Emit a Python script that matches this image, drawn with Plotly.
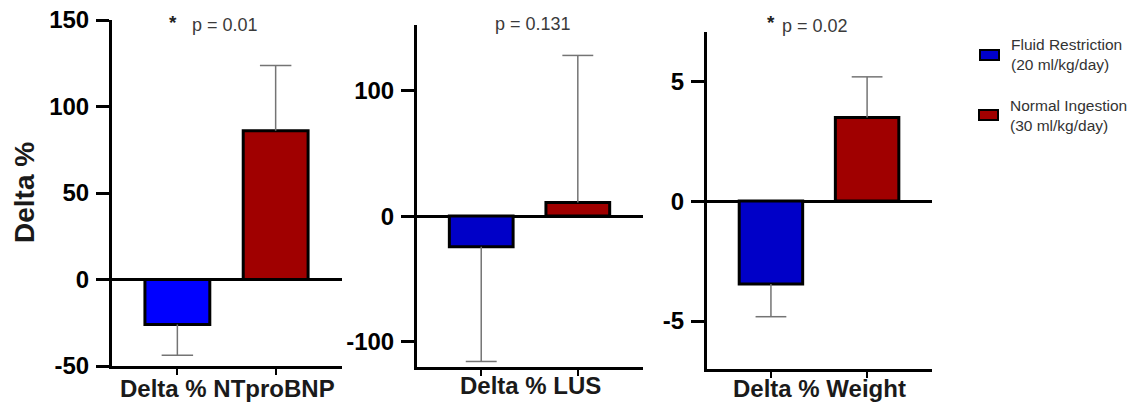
import plotly.graph_objects as go

# ---------------- data ----------------
categories = ["Delta % NTproBNP", "Delta % LUS", "Delta % Weight"]
group_names = ["Fluid Restriction<br>(20 ml/kg/day)", "Normal Ingestion<br>(30 ml/kg/day)"]
fluid_mean = [-26.0, -24.4, -3.46]
fluid_sd = [17.8, 91.2, 1.36]
normal_mean = [86.0, 10.9, 3.49]
normal_sd = [37.7, 116.9, 1.69]
p_values = ["p = 0.01", "p = 0.131", "p = 0.02"]
significant = [True, False, True]
y_tickvals = [[-50, 0, 50, 100, 150], [-100, 0, 100], [-5, 0, 5]]

# ---------------- style ----------------
W, H = 1137, 407


def px(x):
    return x / W


def py(y):
    return 1 - y / H


fluid_colors = ["#0000FF", "#0000C8", "#0000C8"]
normal_color = "#A00000"
err_color = "#747474"
font_fam = "Liberation Sans, Arial, sans-serif"

x_dom_px = [(112, 342), (417, 643), (707, 932)]
y_dom_px = [(20, 366), (25, 367), (32, 369)]
y_ranges = [[-50, 150], [-120, 152], [-7, 7.05]]
x_range = [-0.665, 1.675]
bar_w = 0.66
cap = 0.16

fig = go.Figure()

for i, cat in enumerate(categories):
    ax = "" if i == 0 else str(i + 1)
    xref, yref = "x" + ax, "y" + ax
    means = [fluid_mean[i], normal_mean[i]]
    sds = [fluid_sd[i], normal_sd[i]]
    colors = [fluid_colors[i], normal_color]
    for j in range(2):
        fig.add_trace(go.Bar(
            x=[j], y=[means[j]], width=bar_w, name=group_names[j].replace("<br>", " "),
            marker=dict(color=colors[j], line=dict(color="black", width=3)),
            showlegend=False, xaxis=xref, yaxis=yref, hoverinfo="y",
        ))
    # one-sided error bars (away from zero)
    ex, ey = [], []
    for j in range(2):
        d = 1 if means[j] >= 0 else -1
        end = means[j] + d * sds[j]
        ex += [j, j, None, j - cap, j + cap, None]
        ey += [means[j], end, None, end, end, None]
    fig.add_trace(go.Scatter(
        x=ex, y=ey, mode="lines", line=dict(color=err_color, width=1.5),
        showlegend=False, hoverinfo="skip", xaxis=xref, yaxis=yref,
    ))

    xd = [px(x_dom_px[i][0]), px(x_dom_px[i][1])]
    yd = [py(y_dom_px[i][1]), py(y_dom_px[i][0])]
    fig.update_layout(**{
        "xaxis" + ax: dict(
            domain=xd, range=x_range, anchor=yref, showline=True, linecolor="black",
            linewidth=3, zeroline=False, showgrid=False, tickvals=[0, 1],
            ticks="outside", ticklen=6, tickwidth=2, tickcolor="black",
            showticklabels=False, fixedrange=True, automargin=False,
        ),
        "yaxis" + ax: dict(
            domain=yd, range=y_ranges[i], anchor=xref, showline=True, linecolor="black",
            linewidth=3, zeroline=True, zerolinecolor="black", zerolinewidth=3,
            showgrid=False, tickvals=y_tickvals[i],
            ticktext=[str(v) for v in y_tickvals[i]],
            ticks="outside", ticklen=13, tickwidth=3, tickcolor="black",
            tickfont=dict(family=font_fam, size=24, color="black", weight="bold"),
            ticklabelstandoff=2, automargin=False, ticklabeloverflow="allow",
        ),
    })
    # category label under axis
    fig.add_annotation(
        text=cat, xref="paper", yref="paper",
        x=px((x_dom_px[i][0] + x_dom_px[i][1]) / 2), y=py([388, 385, 388][i]),
        xanchor="center", yanchor="middle", showarrow=False,
        font=dict(family=font_fam, size=24, color="#1a1a1a", weight="bold"),
    )

# p-value annotations
p_x = [225, 533, 815]
p_y = [25, 24, 26]
star_x = [173, None, 771]
for i in range(3):
    fig.add_annotation(
        text=p_values[i], xref="paper", yref="paper", x=px(p_x[i]), y=py(p_y[i]),
        xanchor="center", yanchor="middle", showarrow=False,
        font=dict(family=font_fam, size=18, color="#3a3a3a"),
    )
    if significant[i]:
        fig.add_annotation(
            text="*", xref="paper", yref="paper", x=px(star_x[i]), y=py(23),
            xanchor="center", yanchor="middle", showarrow=False,
            font=dict(family=font_fam, size=19, color="#222222", weight="bold"),
        )

# y-axis title
fig.add_annotation(
    text="Delta %", xref="paper", yref="paper", x=px(24), y=py(193),
    xanchor="center", yanchor="middle", showarrow=False, textangle=-90,
    font=dict(family=font_fam, size=28, color="#1a1a1a", weight="bold"),
)

# legend (manual)
legend_items = [(fluid_colors[1], 55, 980), (normal_color, 115, 979)]
for (col, yc, xl), name in zip(legend_items, group_names):
    fig.add_shape(
        type="rect", xref="paper", yref="paper",
        x0=px(xl), x1=px(xl + 19), y0=py(yc - 5), y1=py(yc + 5),
        fillcolor=col, line=dict(color="black", width=2),
    )
    fig.add_annotation(
        text=name, xref="paper", yref="paper", x=px(xl + 29), y=py(yc),
        xanchor="left", yanchor="middle", align="left", showarrow=False,
        font=dict(family=font_fam, size=15.5, color="#333333"),
    )

fig.update_layout(
    width=W, height=H, margin=dict(l=0, r=0, t=0, b=0, autoexpand=False),
    paper_bgcolor="white", plot_bgcolor="white", showlegend=False,
    barmode="overlay",
)

fig.write_html(
    "out.html",
    config={"displayModeBar": False},
    post_script="document.body.style.margin='0';document.body.style.overflow='hidden';",
)
